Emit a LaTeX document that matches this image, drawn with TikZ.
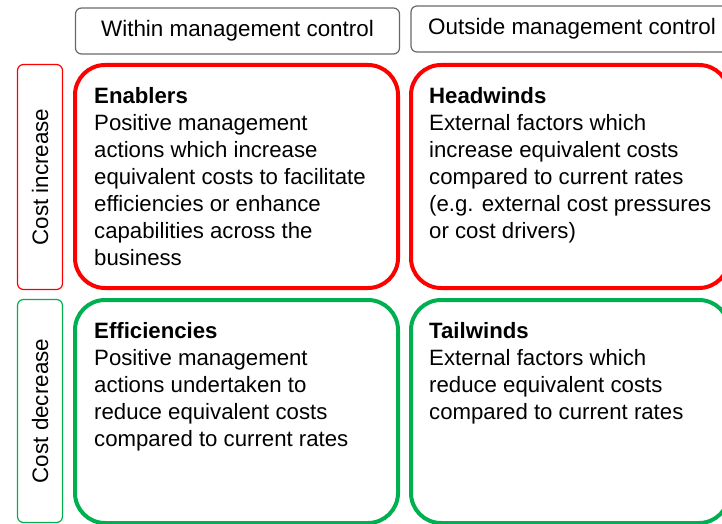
\documentclass[tikz,border=0pt]{standalone}
\usepackage{fontspec}
\setmainfont{Liberation Sans}

\definecolor{incred}{RGB}{255,0,0}
\definecolor{decgreen}{RGB}{0,176,80}
\definecolor{hdrgray}{RGB}{105,105,105}

\tikzset{
  hdrbox/.style={draw=hdrgray, line width=1.2pt, rounded corners=6pt, minimum width=324pt, minimum height=46pt, inner sep=0pt, font=\fontsize{22.4}{26}\selectfont},
  sidebox/.style={line width=1.2pt, rounded corners=6pt, minimum height=45pt, inner sep=0pt, font=\fontsize{22.4}{26}\selectfont},
  bigbox/.style={line width=4pt, rounded corners=30pt, inner sep=0pt},
  bodytext/.style={anchor=north west, align=left, inner sep=0pt, font=\fontsize{22.2}{27}\selectfont}
}

\begin{document}
\begin{tikzpicture}[x=1pt, y=-1pt]
\useasboundingbox (0,0) rectangle (722,524);
\clip (0,0) rectangle (722,524);

% column headers
\node[hdrbox] (within) at (237.5,31) {Within management control};
\node[hdrbox, minimum width=322pt] (outside) at (572,29) {Outside management control};

% row labels
\node[sidebox, draw=incred, minimum width=225pt, rotate=90] (costinc) at (40,177) {Cost increase};
\node[sidebox, draw=decgreen, minimum width=223pt, rotate=90] (costdec) at (40,411) {Cost decrease};

% the four quadrants
\node[bigbox, draw=incred, minimum width=323pt, minimum height=223pt] (enab) at (236.5,176.5) {};
\node[bigbox, draw=incred, minimum width=318pt, minimum height=223pt] (head) at (570,176.5) {};
\node[bigbox, draw=decgreen, minimum width=323pt, minimum height=223pt] (effic) at (236.5,411.5) {};
\node[bigbox, draw=decgreen, minimum width=318pt, minimum height=223pt] (tail) at (570,411.5) {};

\node[bodytext] (enabtxt) at (94,87) {\textbf{Enablers}\\
  Positive management\\
  actions which increase\\
  equivalent costs to facilitate\\
  efficiencies or enhance\\
  capabilities across the\\
  business};
\node[bodytext] (headtxt) at (429,87) {\textbf{Headwinds}\\
  External factors which\\
  increase equivalent costs\\
  compared to current rates\\
  (e.g. external cost pressures\\
  or cost drivers)};
\node[bodytext] (effictxt) at (94,322) {\textbf{Efficiencies}\\
  Positive management\\
  actions undertaken to\\
  reduce equivalent costs\\
  compared to current rates};
\node[bodytext] (tailtxt) at (429,322) {\textbf{Tailwinds}\\
  External factors which\\
  reduce equivalent costs\\
  compared to current rates};
\end{tikzpicture}
\end{document}
